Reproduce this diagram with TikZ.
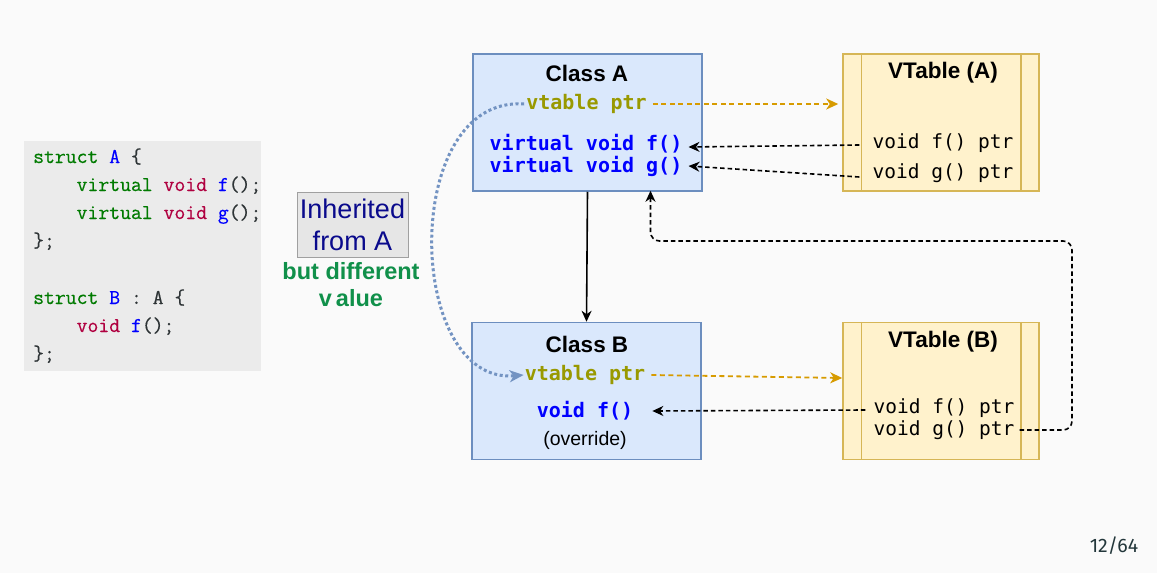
\documentclass[tikz,border=0pt]{standalone}
\usepackage{fontspec}
\newfontfamily\arialf{Liberation Sans}
\newfontfamily\monof{DejaVu Sans Mono}
\newfontfamily\codef[FakeBold=0.5]{Latin Modern Mono}
\newfontfamily\pagef{Fira Sans}
\usetikzlibrary{arrows.meta,calc}
\definecolor{bg}{HTML}{FAFAFA}
\definecolor{blueFill}{HTML}{DAE8FC}
\definecolor{blueLine}{HTML}{6C8EBF}
\definecolor{yelFill}{HTML}{FFF2CC}
\definecolor{yelLine}{HTML}{D6B656}
\definecolor{oliveT}{HTML}{999900}
\definecolor{orangeArr}{HTML}{D79B00}
\definecolor{kwgreen}{HTML}{007A00}
\definecolor{kwtype}{HTML}{B00040}
\definecolor{fnblue}{HTML}{0000FF}
\definecolor{codebg}{HTML}{EBEBEB}
\definecolor{codetxt}{HTML}{2E3436}
\definecolor{navyT}{HTML}{0A0A8C}
\definecolor{diffgreen}{HTML}{10904A}
\definecolor{dotblue}{HTML}{7393C2}
\definecolor{pagecol}{HTML}{23373B}
\newcommand\ckw[1]{\textcolor{kwgreen}{#1}}
\newcommand\ctype[1]{\textcolor{kwtype}{#1}}
\newcommand\cfn[1]{\textcolor{fnblue}{#1}}
\tikzset{
  classbox/.style={draw=blueLine, fill=blueFill, line width=1.5pt, minimum width=229pt, minimum height=137pt, inner sep=0pt},
  vtbox/.style={draw=yelLine, fill=yelFill, line width=1.5pt, minimum width=196pt, minimum height=137pt, inner sep=0pt},
  titletxt/.style={font=\arialf\bfseries\fontsize{22.5}{27}\selectfont, inner sep=0pt},
  membtxt/.style={font=\monof\bfseries\fontsize{20}{24}\selectfont, inner sep=0pt},
  ptrtxt/.style={font=\monof\fontsize{19.5}{23}\selectfont, inner sep=0pt},
  codeline/.style={font=\codef\fontsize{21.1}{24}\selectfont, text=codetxt, anchor=base west, inner sep=0pt},
  tip/.style={-{Stealth[length=11pt,width=10pt,inset=3.5pt]}},
  blkdash/.style={tip, draw=black, line width=1.6pt, dash pattern=on 4.5pt off 3pt},
  orgdash/.style={-{Stealth[length=12pt,width=11pt,inset=3.5pt]}, draw=orangeArr, line width=1.8pt, dash pattern=on 5pt off 3.5pt, color=orangeArr},
}
\begin{document}
\begin{tikzpicture}[x=1pt,y=-1pt]
\fill[bg] (0,0) rectangle (1157,573);
\useasboundingbox (0,0) rectangle (1157,573);

% code block
\node[fill=codebg, minimum width=237pt, minimum height=230pt, inner sep=0pt] (codebox) at (142.5,256) {};
\node[codeline] (c1) at (33,163) {\ckw{struct} \cfn{A} \{};
\node[codeline] (c2) at (33,191) {\phantom{xxxx}\ckw{virtual} \ctype{void} \cfn{f}();};
\node[codeline] (c3) at (33,219) {\phantom{xxxx}\ckw{virtual} \ctype{void} \cfn{g}();};
\node[codeline] (c4) at (33,247) {\};};
\node[codeline] (c5) at (33,304) {\ckw{struct} \cfn{B} : A \{};
\node[codeline] (c6) at (33,332) {\phantom{xxxx}\ctype{void} \cfn{f}();};
\node[codeline] (c7) at (33,360) {\};};

% inherited label
\node[draw={rgb,255:red,160;green,160;blue,160}, fill={rgb,255:red,230;green,230;blue,230}, line width=1pt,
      minimum width=111pt, minimum height=65pt, inner sep=0pt, align=center, text=navyT,
      font=\arialf\fontsize{27}{32}\selectfont] (inh) at (352.5,224.5) {Inherited\\from A};
\node[text=diffgreen, font=\arialf\bfseries\fontsize{23.5}{27}\selectfont, align=center, inner sep=0pt] (diff) at (351,285) {but different\\v\,alue};

% boxes
\node[classbox] (classA) at (587.5,122.5) {};
\node[classbox] (classB) at (586.5,391) {};
\node[vtbox] (vtA) at (941,122.5) {};
\node[vtbox] (vtB) at (941,391) {};
\draw[yelLine, line width=1.5pt] (vtA.north west) ++(19,0) coordinate (a1) -- (a1 |- vtA.south);
\draw[yelLine, line width=1.5pt] (vtA.north east) ++(-19,0) coordinate (a2) -- (a2 |- vtA.south);
\draw[yelLine, line width=1.5pt] (vtB.north west) ++(19,0) coordinate (b1) -- (b1 |- vtB.south);
\draw[yelLine, line width=1.5pt] (vtB.north east) ++(-19,0) coordinate (b2) -- (b2 |- vtB.south);

% Class A texts
\node[titletxt] (tA) at (587,73) {Class A};
\node[membtxt, text=oliveT] (vpA) at (586.5,104) {vtable ptr};
\node[membtxt, text=fnblue] (vfA) at (586,144) {virtual void f()};
\node[membtxt, text=fnblue] (vgA) at (586,166) {virtual void g()};

% VTable A texts
\node[titletxt] (tvA) at (943,73) {VTable (A)};
\node[ptrtxt] (fptrA) at (943,143) {void f() ptr};
\node[ptrtxt] (gptrA) at (943,173) {void g() ptr};

% Class B texts
\node[titletxt] (tB) at (587,344) {Class B};
\node[membtxt, text=oliveT] (vpB) at (585,375) {vtable ptr};
\node[membtxt, text=fnblue] (vfB) at (585,411) {void f()};
\node[font=\arialf\fontsize{19.5}{23}\selectfont, inner sep=0pt] (ovr) at (585,440) {(override)};

% VTable B texts
\node[titletxt] (tvB) at (943,342) {VTable (B)};
\node[ptrtxt] (fptrB) at (944,408) {void f() ptr};
\node[ptrtxt] (gptrB) at (944,430) {void g() ptr};

% connectors
\draw[tip, line width=1.6pt] (classA.south) -- (classB.north);
\draw[orgdash] ([xshift=6pt]vpA.east) -- ([xshift=-4pt]vtA.west |- vpA.east);
\draw[orgdash] ([xshift=6pt]vpB.east) -- ([yshift=-3pt]vtB.west |- vpB.east);
\draw[blkdash] ([xshift=-13pt,yshift=-2pt]fptrA.west) -- ([xshift=6pt,yshift=-3pt]vfA.east);
\draw[blkdash] ([xshift=-13pt,yshift=-4pt]gptrA.west) -- ([xshift=6pt]vgA.east);
\draw[blkdash] ([xshift=-8pt,yshift=-2pt]fptrB.west) -- ([xshift=19pt]vfB.east);
\coordinate (ret) at (1072,241);
\coordinate (retend) at ($(classA.south)+(63,-1)$);
\draw[blkdash, rounded corners=9pt] ([xshift=5pt]gptrB.east) -| (ret) -| (retend);

% dotted inheritance curve
\draw[dotblue, line width=3pt, dash pattern=on 3pt off 2.6pt,
      -{Stealth[length=14pt,width=12pt,inset=4pt]}]
  ([xshift=-2pt]vpA.west) .. controls (400,95) and (405,385) .. ([xshift=-1pt]vpB.west);

% page number
\node[font=\pagef\fontsize{19.5}{24}\selectfont, text=pagecol, inner sep=0pt] (pg) at (1114,546) {12/64};
\end{tikzpicture}
\end{document}
